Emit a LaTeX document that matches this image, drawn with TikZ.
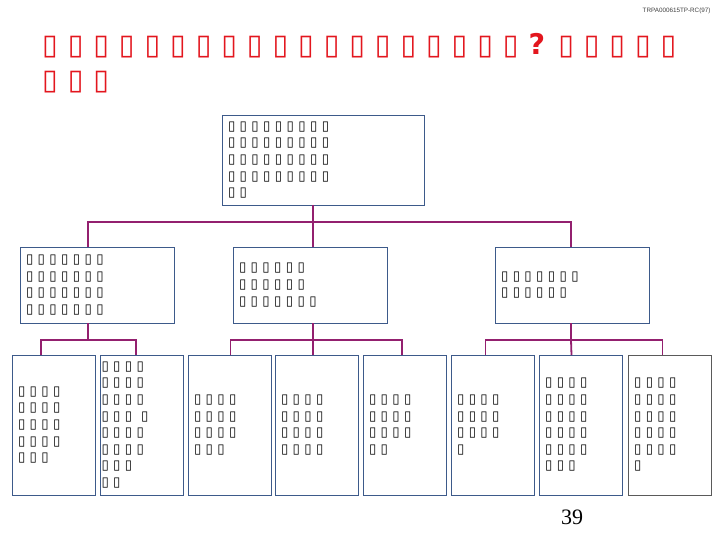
\documentclass[tikz,border=0pt]{standalone}
\usepackage{fontspec}
\setmainfont{Liberation Serif}
\newfontfamily\tofu{DejaVu Sans}
\newfontfamily\hdfont{Liberation Sans}
\usetikzlibrary{positioning}
\definecolor{boxblue}{HTML}{3D5A8A}
\definecolor{boxgrey}{HTML}{5A5A5A}
\definecolor{linkpurple}{HTML}{93206F}
\definecolor{titlered}{HTML}{E3161E}

\begin{document}
\begin{tikzpicture}[x=1pt,y=1pt,
  box/.style={draw=boxblue, line width=0.9pt, anchor=north west, align=left, outer sep=0pt,
    inner xsep=6pt, inner ysep=2pt, font=\tofu\fontsize{13.3}{16.6}\selectfont},
  midbox/.style={box, minimum width=154, minimum height=76, text width=142},
  leafbox/.style={box, minimum width=83, minimum height=140, text width=71},
  conn/.style={draw=linkpurple, line width=1.8pt}]
  \useasboundingbox[fill=white] (0,0) rectangle (720,-540);

  % heading
  \node[anchor=north east, font=\hdfont\fontsize{6.3}{7}\selectfont, text=black!75] (code) at (714,-4) {TRPA000615TP-RC(97)};
  \node[anchor=north west, align=left, text=titlered, inner sep=0pt,
    font=\tofu\bfseries\fontsize{28.5}{35}\selectfont] (title) at (42,-33)
    {▯ ▯ ▯ ▯ ▯ ▯ ▯ ▯ ▯ ▯ ▯ ▯ ▯ ▯ ▯ ▯ ▯ ▯ ▯ ? ▯ ▯ ▯ ▯ ▯\\▯ ▯ ▯};

  % top
  \node[box, minimum width=202, minimum height=90, text width=190] (top) at (222,-115)
    {▯ ▯ ▯ ▯ ▯ ▯ ▯ ▯ ▯\\▯ ▯ ▯ ▯ ▯ ▯ ▯ ▯ ▯\\▯ ▯ ▯ ▯ ▯ ▯ ▯ ▯ ▯\\▯ ▯ ▯ ▯ ▯ ▯ ▯ ▯ ▯\\▯ ▯};

  % second row
  \node[midbox] (na) at (20,-247) {▯ ▯ ▯ ▯ ▯ ▯ ▯\\▯ ▯ ▯ ▯ ▯ ▯ ▯\\▯ ▯ ▯ ▯ ▯ ▯ ▯\\▯ ▯ ▯ ▯ ▯ ▯ ▯};
  \node[midbox] (nb) at (233,-247) {▯ ▯ ▯ ▯ ▯ ▯\\▯ ▯ ▯ ▯ ▯ ▯\\▯ ▯ ▯ ▯ ▯ ▯ ▯};
  \node[midbox] (nc) at (495,-247) {▯ ▯ ▯ ▯ ▯ ▯ ▯\\▯ ▯ ▯ ▯ ▯ ▯};

  % third row
  \node[leafbox] (n1) at (12,-355) {▯ ▯ ▯ ▯\\▯ ▯ ▯ ▯\\▯ ▯ ▯ ▯\\▯ ▯ ▯ ▯\\▯ ▯ ▯};
  \node[leafbox, inner xsep=1.5pt, text width=80] (n2) at (100,-355)
    {▯ ▯ ▯ ▯\\▯ ▯ ▯ ▯\\▯ ▯ ▯ ▯\\▯ ▯ ▯ \ ▯\\▯ ▯ ▯ ▯\\▯ ▯ ▯ ▯\\▯ ▯ ▯\\▯ ▯};
  \node[leafbox] (n3) at (188,-355) {▯ ▯ ▯ ▯\\▯ ▯ ▯ ▯\\▯ ▯ ▯ ▯\\▯ ▯ ▯};
  \node[leafbox] (n4) at (275,-355) {▯ ▯ ▯ ▯\\▯ ▯ ▯ ▯\\▯ ▯ ▯ ▯\\▯ ▯ ▯ ▯};
  \node[leafbox] (n5) at (363,-355) {▯ ▯ ▯ ▯\\▯ ▯ ▯ ▯\\▯ ▯ ▯ ▯\\▯ ▯};
  \node[leafbox] (n6) at (451,-355) {▯ ▯ ▯ ▯\\▯ ▯ ▯ ▯\\▯ ▯ ▯ ▯\\▯};
  \node[leafbox] (n7) at (539,-355) {▯ ▯ ▯ ▯\\▯ ▯ ▯ ▯\\▯ ▯ ▯ ▯\\▯ ▯ ▯ ▯\\▯ ▯ ▯ ▯\\▯ ▯ ▯};
  \node[leafbox, draw=boxgrey] (n8) at (628,-355) {▯ ▯ ▯ ▯\\▯ ▯ ▯ ▯\\▯ ▯ ▯ ▯\\▯ ▯ ▯ ▯\\▯ ▯ ▯ ▯\\▯};

  % connectors
  \draw[conn] ([xshift=-10]top.south) -- ++(0,-17) coordinate (bus1);
  \draw[conn] ([xshift=-9]na.north) |- (bus1) -| ([xshift=-1]nc.north);
  \draw[conn] (bus1) -- ([xshift=3]nb.north);

  \draw[conn] ([xshift=-9]na.south) -- ++(0,-17) coordinate (busa);
  \draw[conn] ([xshift=-12.5]n1.north) |- (busa) -| ([xshift=-5.5]n2.north);

  \draw[conn] ([xshift=3]nb.south) -- ++(0,-17) coordinate (busb);
  \draw[conn] ([xshift=1]n3.north) |- (busb) -| ([xshift=-2.5]n5.north);
  \draw[conn] (busb) -- ([xshift=-3.5]n4.north);

  \draw[conn] ([xshift=-1]nc.south) -- ++(0,-17) coordinate (busc);
  \draw[conn] ([xshift=-7]n6.north) |- (busc) -| ([xshift=-7]n8.north);
  \draw[conn] (busc) -- ([xshift=-9]n7.north);

  % page number
  \node[font=\fontsize{22}{24}\selectfont] (page) at (572,-517) {39};
\end{tikzpicture}
\end{document}
